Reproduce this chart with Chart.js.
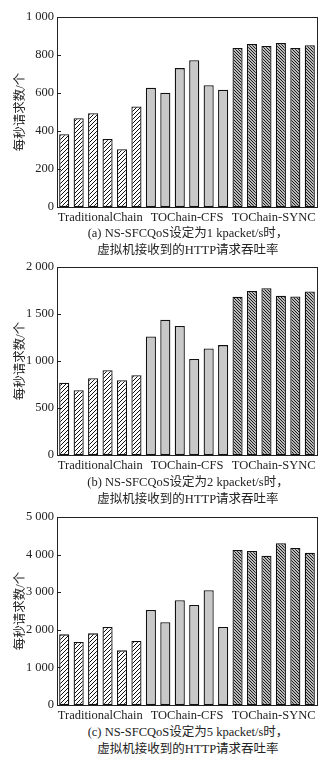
<!DOCTYPE html>
<html>
<head>
<meta charset="utf-8">
<script src="https://cdn.jsdelivr.net/npm/chart.js@4.4.1/dist/chart.umd.min.js"></script>
<style>
  body { margin: 0; background: #fff; width: 328px; height: 762px; position: relative; overflow: hidden; }
  .box { position: absolute; left: 0; width: 328px; }
  .cap { position: absolute; left: 0; width: 376px; text-align: center; font: 12.5px "Liberation Serif", "Noto Sans CJK SC"; color: #222; line-height: 17px; }
</style>
</head>
<body>
<div class="box" style="top:0;height:225px"><canvas id="ca"></canvas></div>
<div class="box" style="top:250px;height:223px"><canvas id="cb"></canvas></div>
<div class="box" style="top:500px;height:223px"><canvas id="cc"></canvas></div>
<div class="cap" style="top:225px">(a) NS-SFCQoS设定为1 kpacket/s时，<br>虚拟机接收到的HTTP请求吞吐率</div>
<div class="cap" style="top:474px">(b) NS-SFCQoS设定为2 kpacket/s时，<br>虚拟机接收到的HTTP请求吞吐率</div>
<div class="cap" style="top:724px">(c) NS-SFCQoS设定为5 kpacket/s时，<br>虚拟机接收到的HTTP请求吞吐率</div>
<script>
const groups = ["TraditionalChain", "TOChain-CFS", "TOChain-SYNC"];
const yTitle = "每秒请求数/个";

// 每组 6 根柱子
const valuesA = [383, 467, 494, 358, 304, 529, 627, 601, 731, 772, 641, 617, 837, 858, 847, 863, 837, 851];
const valuesB = [768, 690, 817, 901, 796, 849, 1261, 1440, 1373, 1021, 1134, 1169, 1683, 1746, 1775, 1694, 1687, 1739];
const valuesC = [1879, 1676, 1906, 2074, 1454, 1702, 2527, 2199, 2784, 2660, 3050, 2074, 4122, 4096, 3972, 4300, 4176, 4052];

const maxA = 1000, stepA = 200;
const maxB = 2000, stepB = 500;
const maxC = 5000, stepC = 1000;

const serif = "'Liberation Serif', 'Noto Sans CJK SC'";

function hatch(size, width, dir) {
    const c = document.createElement("canvas");
    c.width = size; c.height = size;
    const g = c.getContext("2d");
    g.fillStyle = "#fff";
    g.fillRect(0, 0, size, size);
    g.strokeStyle = "#111";
    g.lineWidth = width;
    g.beginPath();
    if (dir > 0) {
        g.moveTo(-1, size + 1); g.lineTo(size + 1, -1);
        g.moveTo(-1, 1); g.lineTo(1, -1);
        g.moveTo(size - 1, size + 1); g.lineTo(size + 1, size - 1);
    } else {
        g.moveTo(-1, -1); g.lineTo(size + 1, size + 1);
        g.moveTo(size - 1, -1); g.lineTo(size + 1, 1);
        g.moveTo(-1, size - 1); g.lineTo(1, size + 1);
    }
    g.stroke();
    return g.createPattern(c, "repeat");
}

const patTC = hatch(4, 1, 1);
const patSYNC = hatch(3, 1.1, -1);

// 外框和向内的短刻度
const frame = {
    id: "frame",
    afterDraw(chart) {
        const { ctx, chartArea: a, scales } = chart;
        ctx.save();
        ctx.strokeStyle = "#222";
        ctx.lineWidth = 1;
        ctx.strokeRect(a.left + 0.5, a.top + 0.5, a.right - a.left, a.bottom - a.top);
        ctx.beginPath();
        scales.y.ticks.forEach(t => {
            const y = Math.round(scales.y.getPixelForValue(t.value)) + 0.5;
            ctx.moveTo(a.left, y); ctx.lineTo(a.left + 4, y);
        });
        ctx.stroke();
        ctx.restore();
    }
};

function makeChart(id, values, max, step) {
    const labels = values.map((v, i) => "b" + i);
    const colors = values.map((v, i) => i < 6 ? patTC : (i < 12 ? "#c8c8c8" : patSYNC));
    return new Chart(document.getElementById(id), {
        type: "bar",
        data: {
            labels: labels,
            datasets: [{
                data: values,
                backgroundColor: colors,
                borderColor: "#111",
                borderWidth: 1.3,
                borderSkipped: false,
                barPercentage: 0.7,
                categoryPercentage: 1,
            }],
        },
        options: {
            responsive: true,
            maintainAspectRatio: false,
            animation: false,
            layout: { padding: { top: 17, right: 11, left: 0, bottom: 0 } },
            plugins: { legend: { display: false }, tooltip: { enabled: false } },
            scales: {
                x: {
                    ticks: { display: false },
                    grid: { display: false, drawTicks: false },
                    border: { display: false },
                    afterFit: s => { s.height = 0; },
                },
                xg: {
                    type: "category",
                    labels: groups,
                    position: "bottom",
                    offset: true,
                    grid: { display: false, drawTicks: false },
                    border: { display: false },
                    ticks: { color: "#222", padding: 3, font: { family: serif, size: 12.5 }, maxRotation: 0, autoSkip: false },
                    afterFit: s => { s.height = 18; },
                },
                y: {
                    min: 0,
                    max: max,
                    ticks: {
                        stepSize: step,
                        color: "#222",
                        padding: 3,
                        font: { family: serif, size: 12.5 },
                        callback: v => v >= 1000 ? Math.floor(v / 1000) + " " + String(v % 1000).padStart(3, "0") : String(v),
                    },
                    grid: { display: false, drawTicks: false },
                    border: { display: false },
                    title: { display: true, text: yTitle, color: "#222", padding: { top: 13, bottom: 0 }, font: { family: serif, size: 12.5 } },
                    afterFit: s => { s.width = 57; },
                },
            },
        },
        plugins: [frame],
    });
}

makeChart("ca", valuesA, maxA, stepA);
makeChart("cb", valuesB, maxB, stepB);
makeChart("cc", valuesC, maxC, stepC);
</script>
</body>
</html>
